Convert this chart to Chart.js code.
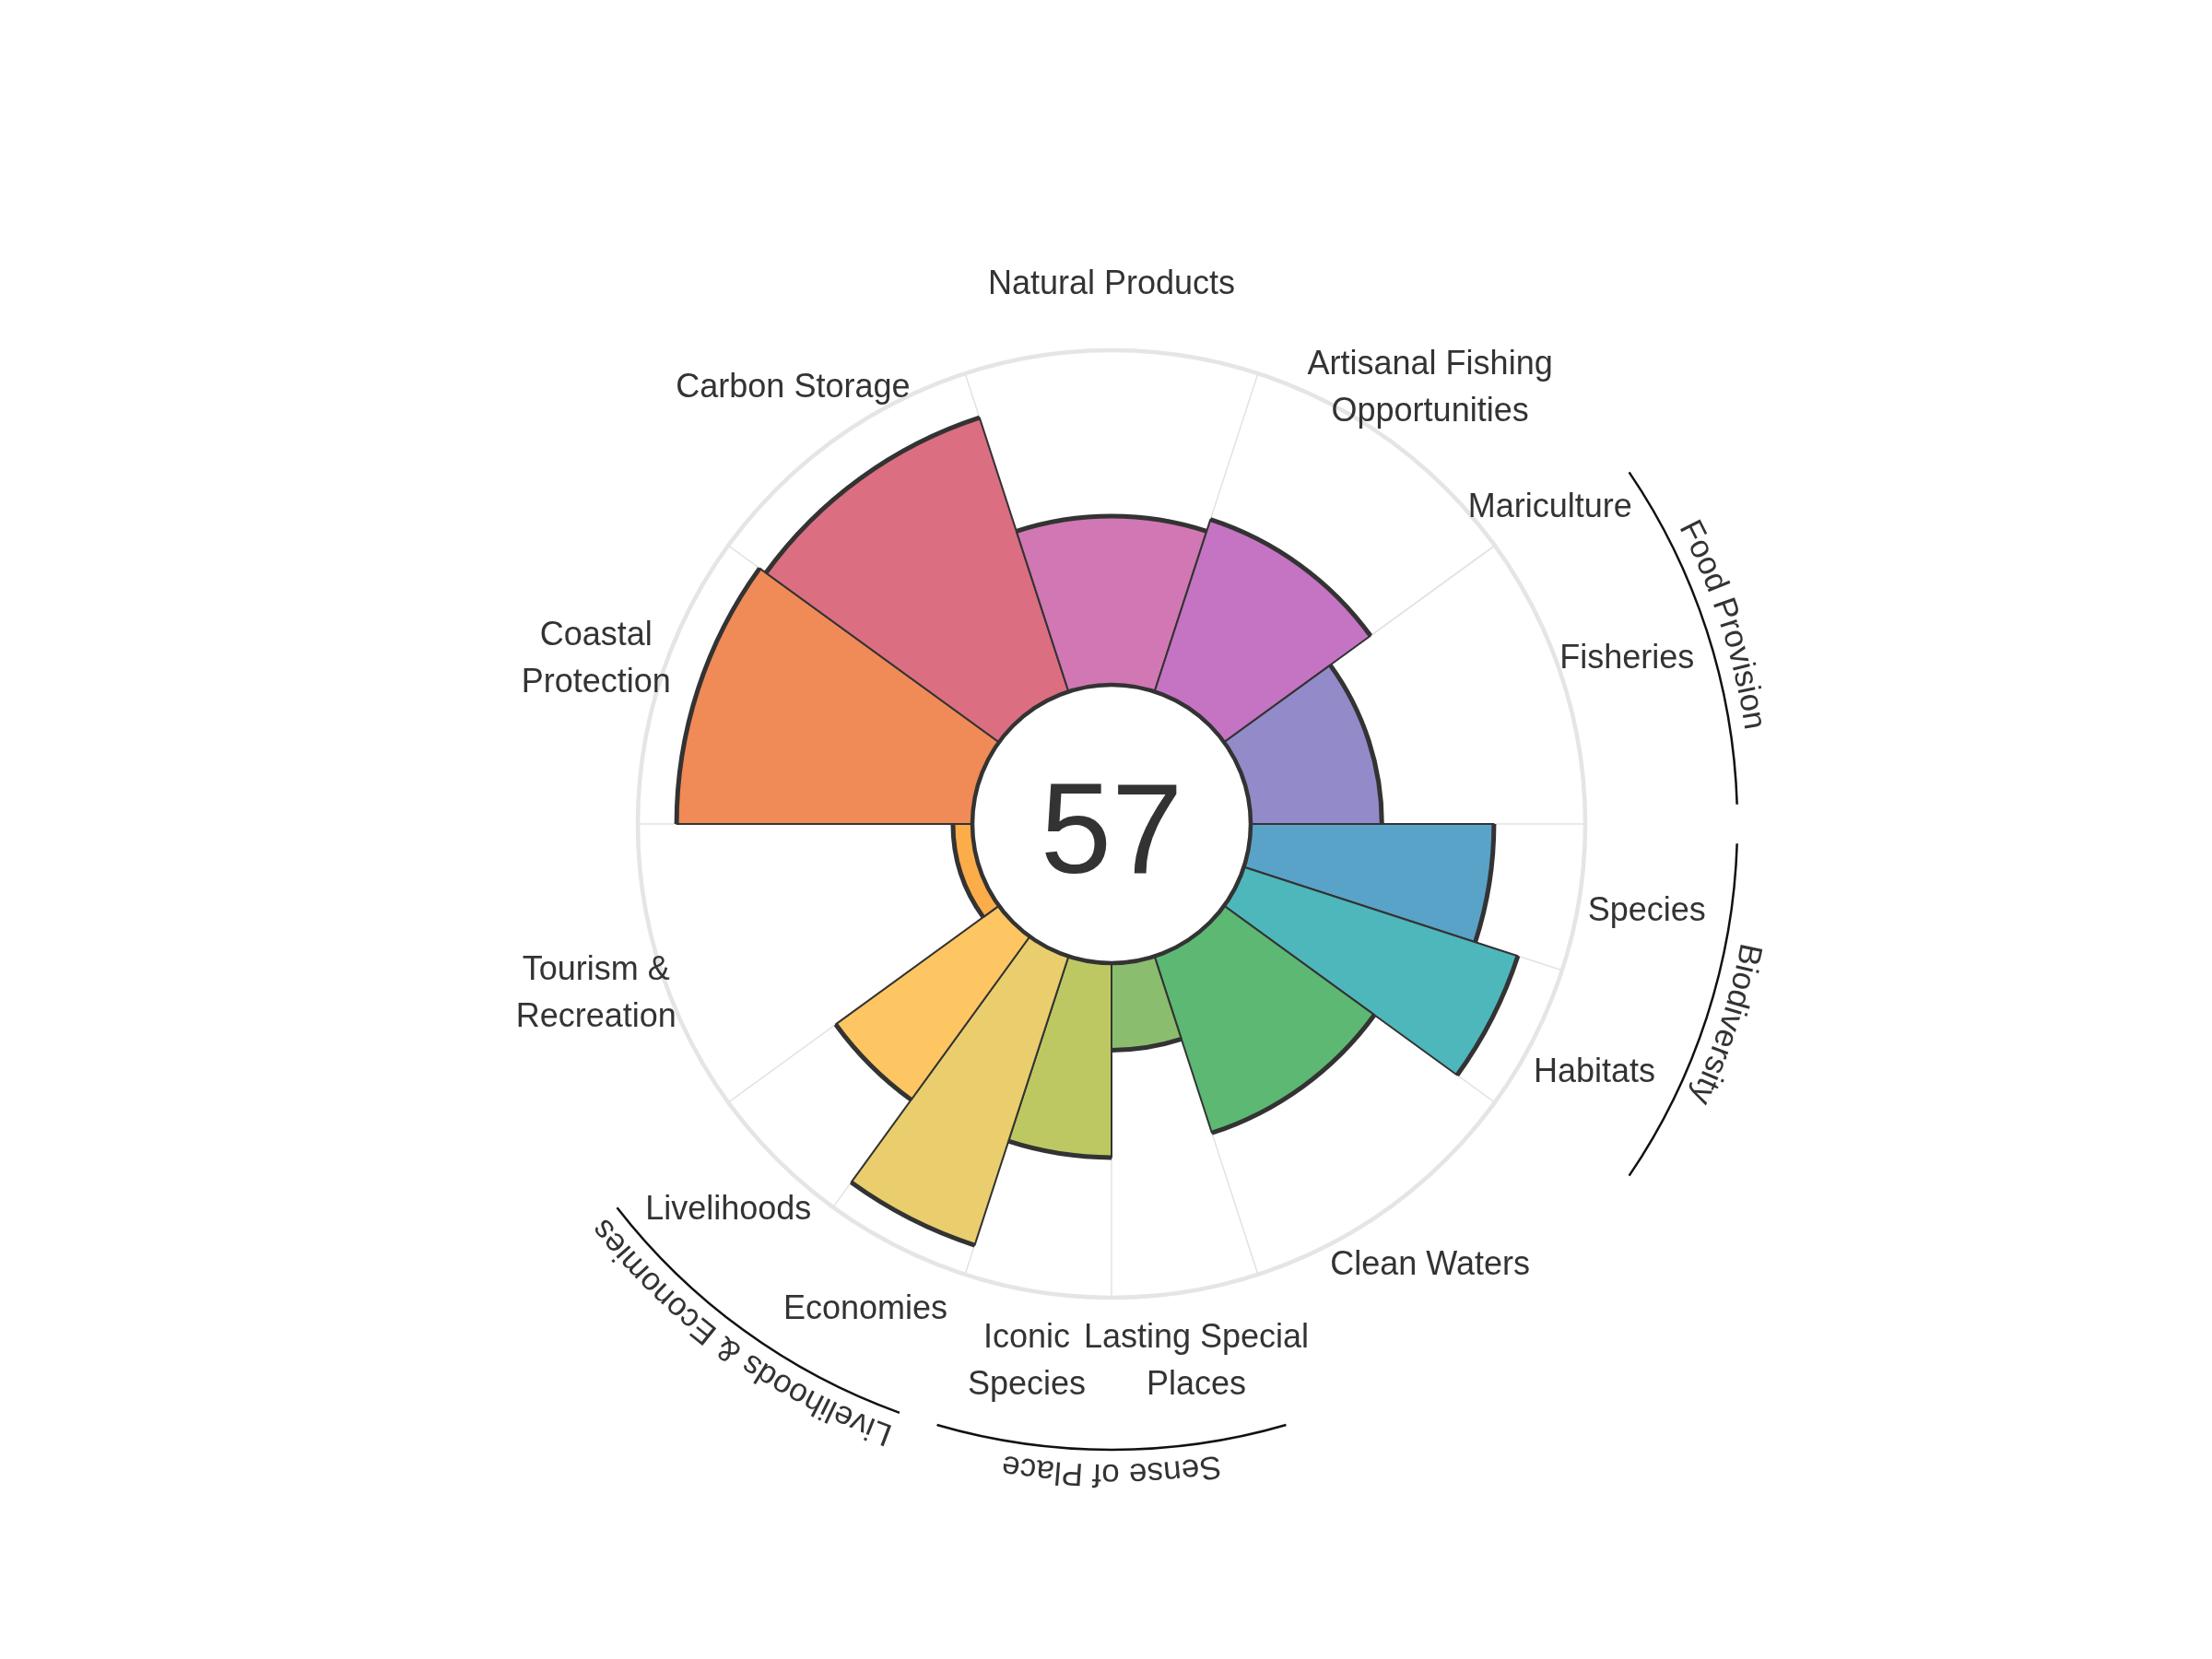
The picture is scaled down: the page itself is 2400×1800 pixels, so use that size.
<!DOCTYPE html>
<html>
<head>
<meta charset="utf-8">
<title>Index flower plot</title>
<script src="https://cdn.jsdelivr.net/npm/chart.js@4.4.1/dist/chart.umd.min.js"></script>
<style>
  html, body { margin: 0; padding: 0; background: #ffffff; }
  #wrap { width: 2400px; height: 1800px; position: relative; }
</style>
</head>
<body>
<div id="wrap"><canvas id="flowerChart"></canvas></div>
<script>
// goals, counter-clockwise from the east
const goals = ["Fisheries", "Mariculture", "Artisanal Fishing Opportunities", "Natural Products",
  "Carbon Storage", "Coastal Protection", "Tourism & Recreation", "Livelihoods", "Economies",
  "Iconic Species", "Lasting Special Places", "Clean Waters", "Habitats", "Species"];

const goalLabels = [["Fisheries"], ["Mariculture"], ["Artisanal Fishing", "Opportunities"],
  ["Natural Products"], ["Carbon Storage"], ["Coastal", "Protection"], ["Tourism &", "Recreation"],
  ["Livelihoods"], ["Economies"], ["Iconic", "Species"], ["Lasting Special", "Places"],
  ["Clean Waters"], ["Habitats"], ["Species"]];

const scores = [39.2, 0, 54.1, 50.4, 86.1, 88.4, 5.8, 60.3, 90.8, 58.1, 26.0, 55.5, 86.1, 72.7];

// share of the circle for each goal, degrees
const weights = [36, 0, 36, 36, 36, 36, 36, 18, 18, 18, 18, 36, 18, 18];

const colors = ["#938ac9", "#a87fc6", "#c474c3", "#d177b4", "#dc6e82", "#f08a57", "#fdac4a",
  "#fdc662", "#eace6e", "#bdc862", "#8bbd6e", "#5db873", "#4db7bc", "#59a2c8"];

const groupNames = ["Food Provision", "Biodiversity", "Sense of Place", "Livelihoods & Economies"];
const groupMembers = [["Fisheries", "Mariculture"], ["Habitats", "Species"],
  ["Iconic Species", "Lasting Special Places"], ["Livelihoods", "Economies"]];

const indexScore = 57;

const FONT = "'Liberation Sans', Arial, Helvetica, sans-serif";
const TEXT_COLOR = "#333333";

// chart.js goes clockwise, so the goal list is walked backwards
const order = goals.map((g, i) => i).reverse();

function drawCurvedText(ctx, text, cx, cy, radius, midAngle) {
  const total = ctx.measureText(text).width;
  let pos = midAngle - total / radius / 2;
  for (const ch of text) {
    const w = ctx.measureText(ch).width;
    const a = pos + (w / 2) / radius;
    ctx.save();
    ctx.translate(cx + radius * Math.cos(a), cy + radius * Math.sin(a));
    ctx.rotate(a + Math.PI / 2);
    ctx.fillText(ch, 0, 0);
    ctx.restore();
    pos += w / radius;
  }
}

const flowerPlugin = {
  id: "flower",
  beforeDatasetsDraw(chart) {
    const ctx = chart.ctx;
    const scale = chart.scales.r;
    const cx = scale.xCenter;
    const cy = scale.yCenter;
    const r0 = scale.getDistanceFromCenterForValue(0);
    const rMax = scale.getDistanceFromCenterForValue(100);
    const arcs = chart.getDatasetMeta(0).data;

    ctx.save();
    ctx.strokeStyle = "#e2e2e2";
    ctx.lineWidth = 1.5;
    arcs.forEach(a => {
      ctx.beginPath();
      ctx.moveTo(cx + r0 * Math.cos(a.startAngle), cy + r0 * Math.sin(a.startAngle));
      ctx.lineTo(cx + rMax * Math.cos(a.startAngle), cy + rMax * Math.sin(a.startAngle));
      ctx.stroke();
    });

    ctx.strokeStyle = "#e5e5e5";
    ctx.lineWidth = 4.5;
    ctx.beginPath();
    ctx.arc(cx, cy, rMax, 0, Math.PI * 2);
    ctx.stroke();
    ctx.restore();
  },
  afterDatasetsDraw(chart) {
    const ctx = chart.ctx;
    const scale = chart.scales.r;
    const cx = scale.xCenter;
    const cy = scale.yCenter;
    const r0 = scale.getDistanceFromCenterForValue(0);
    const rMax = scale.getDistanceFromCenterForValue(100);
    const arcs = chart.getDatasetMeta(0).data;

    ctx.save();

    // heavy outline on the outer edge of each petal
    ctx.strokeStyle = "#333333";
    ctx.lineWidth = 5;
    arcs.forEach((a, k) => {
      const g = order[k];
      if (weights[g] === 0) return;
      ctx.beginPath();
      ctx.arc(a.x, a.y, a.outerRadius, a.startAngle, a.endAngle);
      ctx.stroke();
    });

    // hole in the middle
    ctx.beginPath();
    ctx.arc(cx, cy, r0, 0, Math.PI * 2);
    ctx.fillStyle = "#ffffff";
    ctx.fill();
    ctx.lineWidth = 4.5;
    ctx.strokeStyle = "#333333";
    ctx.stroke();

    ctx.fillStyle = TEXT_COLOR;
    ctx.font = "139px " + FONT;
    ctx.textAlign = "center";
    ctx.textBaseline = "alphabetic";
    ctx.fillText(String(indexScore), cx, cy + 53);

    // goal labels
    ctx.font = "36px " + FONT;
    ctx.textBaseline = "middle";
    const labelR = rMax + 74;
    const lineH = 51;
    arcs.forEach((a, k) => {
      const lines = goalLabels[order[k]];
      const mid = (a.startAngle + a.endAngle) / 2;
      const lx = cx + labelR * Math.cos(mid);
      const ly = cy + labelR * Math.sin(mid) + 3;
      lines.forEach((line, j) => {
        ctx.fillText(line, lx, ly + (j - (lines.length - 1) / 2) * lineH);
      });
    });

    // group arcs and their names
    const pad = 1.8 * Math.PI / 180;
    const arcR = rMax + 165;
    const textR = rMax + 181;
    ctx.font = "35px " + FONT;
    ctx.textBaseline = "alphabetic";
    groupNames.forEach((name, gi) => {
      const members = arcs.filter((a, k) => groupMembers[gi].includes(goals[order[k]]));
      const start = Math.min(...members.map(a => a.startAngle));
      const end = Math.max(...members.map(a => a.endAngle));
      ctx.beginPath();
      ctx.arc(cx, cy, arcR, start + pad, end - pad);
      ctx.strokeStyle = "#111111";
      ctx.lineWidth = 2.5;
      ctx.stroke();
      ctx.fillStyle = TEXT_COLOR;
      drawCurvedText(ctx, name, cx, cy, textR, (start + end) / 2);
    });

    ctx.restore();
  }
};

function buildFlowerChart() {
  const canvas = document.getElementById("flowerChart");
  const holeRatio = 151 / 514;

  new Chart(canvas, {
    type: "polarArea",
    data: {
      labels: order.map(i => goals[i]),
      datasets: [{
        label: "Score",
        data: order.map(i => scores[i]),
        backgroundColor: order.map(i => colors[i]),
        borderColor: "#333333",
        borderWidth: ctx => (weights[order[ctx.dataIndex]] > 0 ? 2 : 0),
        angle: ctx => (weights[order[ctx.dataIndex]] > 0 ? weights[order[ctx.dataIndex]] : 0.000001)
      }]
    },
    plugins: [flowerPlugin],
    options: {
      responsive: true,
      maintainAspectRatio: false,
      animation: false,
      layout: {
        padding: { left: 692, right: 680, top: 380, bottom: 392 }
      },
      plugins: {
        legend: { display: false },
        tooltip: { enabled: false }
      },
      scales: {
        r: {
          min: -100 * holeRatio / (1 - holeRatio),
          max: 100,
          startAngle: 90,
          ticks: { display: false },
          grid: { display: false },
          angleLines: { display: false },
          pointLabels: { display: false }
        }
      }
    }
  });
}

document.addEventListener("DOMContentLoaded", buildFlowerChart);
</script>
</body>
</html>
